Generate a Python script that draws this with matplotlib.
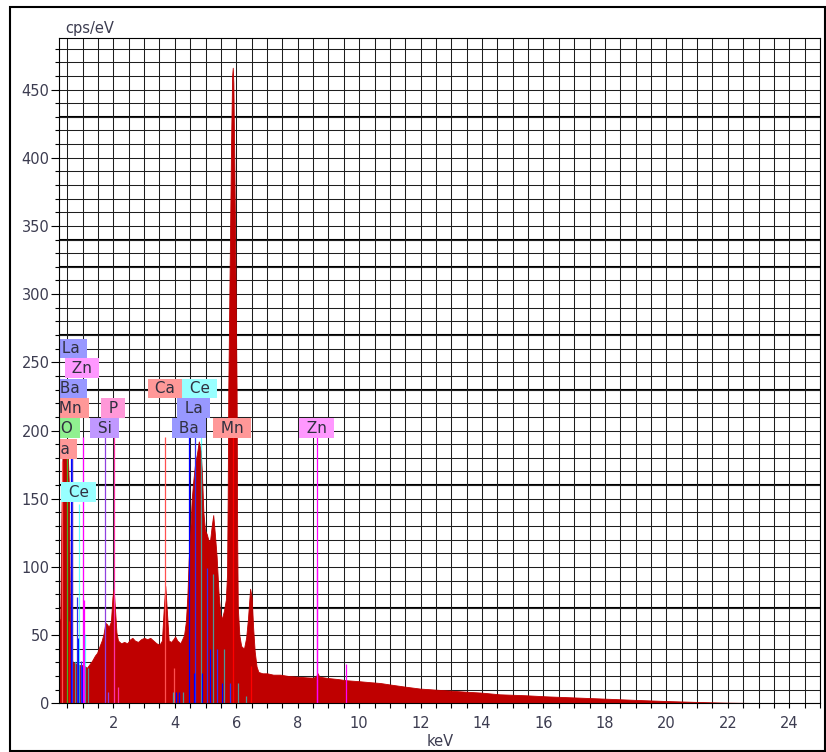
import matplotlib
matplotlib.use("Agg")
import matplotlib.pyplot as plt
from matplotlib.colors import to_rgba
from matplotlib.patches import Rectangle
from matplotlib.ticker import MultipleLocator

# EDX spectrum (keV vs cps/eV)
spec_kev = [0.22, 0.27, 0.31, 0.35, 0.42, 0.50, 0.55, 0.58, 0.62, 0.66, 0.70, 0.80,
            0.90, 1.00, 1.08, 1.14, 1.20, 1.30, 1.40, 1.47, 1.55, 1.62, 1.68, 1.74,
            1.79, 1.85, 1.92, 1.97, 2.01, 2.05, 2.10, 2.15, 2.25, 2.35, 2.45, 2.55,
            2.62, 2.70, 2.80, 2.90, 3.00, 3.10, 3.20, 3.30, 3.40, 3.50, 3.58, 3.64,
            3.69, 3.74, 3.80, 3.88, 3.95, 4.01, 4.08, 4.18, 4.30, 4.36, 4.41, 4.45,
            4.50, 4.55, 4.60, 4.66, 4.72, 4.78, 4.84, 4.88, 4.93, 4.98, 5.04, 5.10,
            5.15, 5.20, 5.25, 5.30, 5.36, 5.42, 5.48, 5.53, 5.60, 5.66, 5.70, 5.72,
            5.74, 5.78, 5.83, 5.865, 5.885, 5.905, 5.94, 5.98, 6.01, 6.03, 6.05, 6.10,
            6.16, 6.25, 6.32, 6.38, 6.45, 6.50, 6.55, 6.60, 6.66, 6.72, 6.85, 7.00,
            7.20, 7.43, 7.70, 8.00, 8.30, 8.51, 8.60, 8.65, 8.70, 9.00, 9.30, 9.59,
            10.00, 10.35, 10.68, 11.00, 11.50, 11.98, 12.50, 13.28, 14.00, 14.57, 15.42,
            16.09, 17.00, 18.02, 19.00, 19.97, 21.00, 21.90, 23.00, 23.80, 25.00]
spec_cps = [60, 62, 140, 190, 192, 194, 160, 80, 40, 31, 30, 29,
            28, 28, 27, 26, 28, 31, 35, 37, 42, 46, 51, 59,
            58, 56, 60, 78, 84, 70, 52, 46, 44, 45, 44, 47,
            48, 46, 45, 47, 48, 47, 48, 46, 44, 43, 46, 70,
            86, 68, 46, 45, 47, 49, 46, 44, 50, 60, 80, 105,
            125, 150, 163, 176, 183, 192, 185, 170, 140, 127, 124, 119,
            120, 130, 138, 125, 108, 82, 65, 62, 68, 76, 95, 150,
            230, 310, 410, 460, 466, 455, 390, 300, 230, 120, 70, 50,
            42, 40, 48, 62, 84, 78, 55, 38, 27, 23, 22, 22,
            21, 21, 20, 19.5, 19, 18.8, 20, 22, 19.5, 18.5, 17.8, 16.9,
            16.2, 15.5, 14.9, 13.8, 12.2, 10.8, 10, 8.8, 7.8, 6.6, 5.9,
            5.1, 4.3, 3.4, 2.5, 1.7, 1.0, 0.5, 0.2, 0, 0]

# element marker lines
marker_elem = ['Ca', 'O', 'Mn', 'Mn', 'Ba', 'La', 'Ce', 'La', 'Ba', 'Ce', 'La', 'Ba',
               'Zn', 'Zn', 'Ce', 'Ce', 'Si', 'Si', 'P', 'P',
               'Ca', 'Ca', 'Ce', 'Ba', 'Ba', 'Ce', 'Ba', 'La', 'Ba', 'Ce', 'Ba', 'La',
               'Ba', 'Ce', 'La', 'Ba', 'Ce', 'La', 'Mn', 'Ce', 'Ce', 'Mn',
               'Zn', 'Zn', 'Zn']
marker_kev = [0.34, 0.50, 0.556, 0.637, 0.62, 0.66, 0.76, 0.80, 0.84, 0.88, 0.93, 0.98,
              1.00, 1.03, 1.06, 1.16, 1.74, 1.84, 2.01, 2.14,
              3.69, 3.96, 3.93, 4.04, 4.13, 4.28, 4.47, 4.65, 4.62, 4.84, 4.88, 5.04,
              5.14, 5.24, 5.37, 5.53, 5.61, 5.78, 5.89, 6.05, 6.32, 6.49,
              8.615, 8.64, 9.57]
marker_cps = [178, 194, 60, 194, 194, 194, 31, 78, 48, 146, 31, 27,
              195, 76, 51, 26, 195, 8, 195, 12,
              195, 26, 8, 8, 8, 8, 195, 195, 22, 195, 22, 99,
              40, 95, 40, 15, 40, 15, 195, 15, 5, 27,
              195, 99, 29]

# element labels on the spectrum
label_elem = ['La', 'Zn', 'Ba', 'Mn', 'O', 'Ca', 'Ce', 'P', 'Si',
              'Ca', 'Ce', 'La', 'Ba', 'Mn', 'Zn']
label_kev = [0.63, 0.98, 0.59, 0.60, 0.49, 0.26, 0.87, 1.99, 1.71,
             3.67, 4.81, 4.61, 4.45, 5.86, 8.61]
label_cps = [260, 245.8, 230.7, 216.4, 201.8, 186.4, 154.9, 216.4, 201.8,
             230.7, 230.7, 216.4, 201.8, 201.8, 201.8]

line_color = {'Ca': '#FF5050', 'O': '#4CB020', 'Mn': '#FF0000', 'Ba': '#0000FF',
              'La': '#3030F0', 'Ce': to_rgba('#00FFFF', 0.6), 'Zn': '#FF00FF',
              'Si': '#9040E0', 'P': '#FF30A8'}
box_color = {'La': '#9898FF', 'Ba': '#9898FF', 'Zn': '#FF98FF', 'Mn': '#FF9898',
             'Ca': '#FF9898', 'O': '#90F090', 'Ce': '#98FFFF', 'P': '#FF98D8',
             'Si': '#C098FF'}

# horizontal grid levels drawn heavier
heavy_grid_cps = [430, 340, 320, 270, 230, 160, 70]

text_col = '#3C3C50'

fig = plt.figure(figsize=(8.26, 7.52), dpi=100)
ax = fig.add_axes([58.7 / 826, 1 - 703.3 / 752, (820 - 58.7) / 826, (703.3 - 37.7) / 752])

ax.set_xlim(0.22, 25.0)
ax.set_ylim(0, 488)

# grid
ax.xaxis.set_major_locator(MultipleLocator(2))
ax.xaxis.set_minor_locator(MultipleLocator(0.5))
ax.yaxis.set_major_locator(MultipleLocator(50))
ax.yaxis.set_minor_locator(MultipleLocator(10))
ax.grid(which='both', color='#1E1E1E', lw=0.75, zorder=0)
ax.set_axisbelow(True)
for lev in heavy_grid_cps:
    ax.axhline(lev, color='black', lw=1.5, zorder=0.5)

# spectrum
ax.fill_between(spec_kev, spec_cps, 0, color='#BF0000', lw=0.6, zorder=2)

# marker lines
ax.vlines(marker_kev, 0, marker_cps, colors=[line_color[e] for e in marker_elem],
          lw=0.9, zorder=3)

# labels
for el, kx, cy in zip(label_elem, label_kev, label_cps):
    ax.text(kx, cy, f' {el} ', ha='center', va='center', fontsize=11, color='#303040',
            bbox=dict(boxstyle='square,pad=0.15', fc=box_color[el], ec='none'),
            clip_on=True, zorder=5)

for s in ax.spines.values():
    s.set_color('black')
    s.set_linewidth(0.8)
    s.set_zorder(6)

ax.tick_params(axis='x', which='both', direction='out', length=3.6, width=0.8,
               labelsize=10.5, labelcolor=text_col, pad=5.5)
ax.tick_params(axis='y', which='major', direction='out', length=5.8, width=0.8,
               labelsize=10.5, labelcolor=text_col, pad=0.8)
ax.tick_params(axis='y', which='minor', direction='out', length=3.1, width=0.8)
ax.set_xticks(range(2, 25, 2))
ax.set_yticks(range(0, 451, 50))

fig.text(65 / 826, 1 - 29 / 752, 'cps/eV', fontsize=10.5, color=text_col,
         ha='left', va='center')
fig.text(440 / 826, 1 - 742 / 752, 'keV', fontsize=10.5, color=text_col,
         ha='center', va='center')

# outer frame
fig.add_artist(Rectangle((10 / 826, 1 / 752), 815 / 826, 744 / 752,
                         transform=fig.transFigure, fill=False, ec='black', lw=1.5))

fig.savefig('out.png', dpi=100)
